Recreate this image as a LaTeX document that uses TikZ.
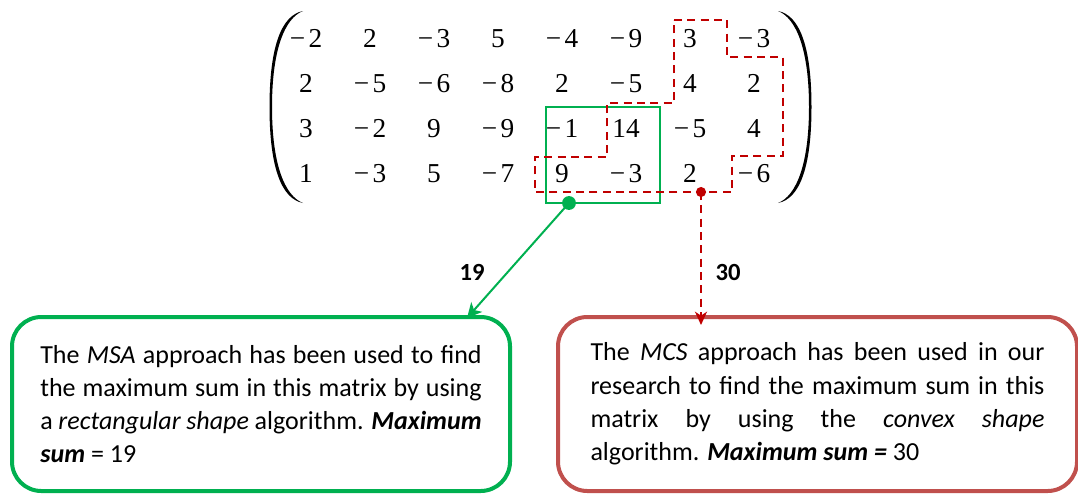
\documentclass[tikz,border=0pt]{standalone}
\usepackage{fontspec}
\setmainfont{Carlito}
\newfontfamily\timesf{Liberation Serif}
\usetikzlibrary{arrows.meta}
\definecolor{msagreen}{HTML}{00B050}
\definecolor{dotred}{HTML}{C00000}
\definecolor{boxred}{HTML}{C0504D}
\newcommand{\negn}[1]{−\kern2.5pt#1}
\tikzset{
  entry/.style={font=\timesf\fontsize{20.5}{20.5}\selectfont, anchor=base, inner sep=0pt},
  textbox/.style={rounded corners=22pt, line width=3pt, minimum height=130.5pt, inner sep=0pt, align=justify,
     font=\fontsize{19.5}{24.9}\selectfont},
  msabox/.style={textbox, draw=msagreen, minimum width=373.5pt, text width=331pt},
  mcsbox/.style={textbox, draw=boxred, minimum width=389.25pt, text width=340.5pt},
  lbl/.style={font=\bfseries\fontsize{18.5}{18.5}\selectfont, inner sep=0pt},
  msarect/.style={draw=msagreen, line width=2pt, minimum width=85.5pt, minimum height=72pt, inner sep=0pt},
  convexline/.style={draw=dotred, line width=1.5pt, dash pattern=on 6pt off 4pt},
  greenarrow/.style={draw=msagreen, line width=1.5pt, -{Stealth[length=11pt,width=11pt,inset=3pt]}},
  redarrow/.style={draw=dotred, line width=1.5pt, dash pattern=on 6pt off 4pt, -{Stealth[length=10pt,width=9pt,inset=3pt]}}
}
\begin{document}
\begin{tikzpicture}[x=0.75pt,y=-0.75pt]
\useasboundingbox (0,0) rectangle (1078,493);
% parentheses
\fill (303,11) .. controls (282,15) and (269.5,45) .. (269.5,107) .. controls (269.5,169) and (282,199) .. (303,203)
  .. controls (285,196) and (272,165) .. (272,107) .. controls (272,49) and (285,18) .. (303,11) -- cycle;
\fill (778,11) .. controls (799,15) and (811.5,45) .. (811.5,107) .. controls (811.5,169) and (799,199) .. (778,203)
  .. controls (796,196) and (809,165) .. (809,107) .. controls (809,49) and (796,18) .. (778,11) -- cycle;
% entries
\foreach \r/\yy/\vals in {1/47/{\negn2,2,\negn3,5,\negn4,\negn9,3,\negn3},
                          2/92/{2,\negn5,\negn6,\negn8,2,\negn5,4,2},
                          3/137/{3,\negn2,9,\negn9,\negn1,14,\negn5,4},
                          4/182/{1,\negn3,5,\negn7,9,\negn3,2,\negn6}}{
  \foreach \v [count=\c] in \vals {
    \pgfmathsetmacro{\xx}{242+64*\c}
    \node[entry] (m\r\c) at (\xx,\yy) {\v};
  }
}
% MSA rectangle
\node[msarect] (msa) at (603,155) {};
% MCS convex shape
\draw[convexline] (674,20) -- (727,20) -- (727,57) -- (783,57) -- (783,156) -- (732,156) -- (732,192)
  -- (535,192) -- (535,157) -- (607,157) -- (607,103) -- (674,103) -- cycle;
% dots
\coordinate (gdot) at (569,203);
\coordinate (rdot) at (701,192);
\fill[msagreen] (gdot) circle (5.2pt);
\fill[dotred] (rdot) circle (3.8pt);
% boxes
\node[msabox] (msabox) at (261,404) {The \textit{MSA} approach has been used to find\linebreak the maximum sum in this matrix by using\linebreak a \textit{rectangular shape} algorithm. \textbf{\textit{Maximum}}\linebreak \textbf{\textit{sum}} = 19};
\node[mcsbox] (mcsbox) at (817.5,404) {The \textit{MCS} approach has been used in our\linebreak research to find the maximum sum in this\linebreak matrix by using the \textit{convex shape}\linebreak algorithm. \textbf{\textit{Maximum sum =}} 30};
\coordinate (gtip) at (467,318);
\coordinate (rtip) at (701,325);
% arrows
\draw[greenarrow] (gdot) -- (gtip);
\draw[redarrow] (rdot) -- (rtip);
% labels
\node[lbl] (l19) at (472,272) {19};
\node[lbl] (l30) at (728,272) {30};
\end{tikzpicture}
\end{document}
